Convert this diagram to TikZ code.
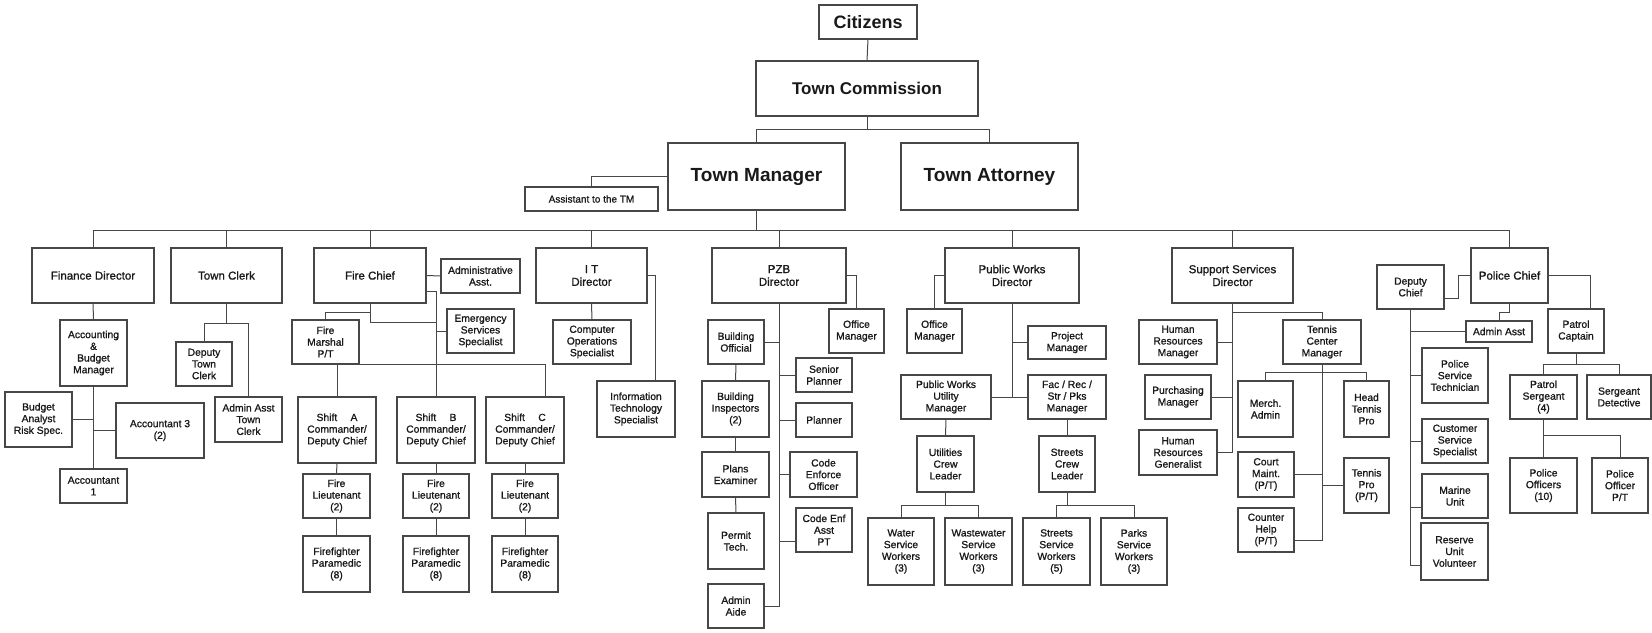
\documentclass[tikz,border=0pt]{standalone}
\usepackage{fontspec}
\setmainfont{Liberation Sans}
\newfontfamily\lab{Liberation Sans}[FakeBold=1.1]
\usetikzlibrary{calc}
\tikzset{
 bx/.style={draw=black!72, line width=1.1pt, inner sep=1pt, outer sep=0pt, align=center, text=black!90},
 sm/.style={bx, font=\lab\fontsize{10.3}{11.7}\selectfont},
 md/.style={bx, font=\lab\fontsize{11.5}{12.8}\selectfont},
 big/.style={bx, font=\bfseries\fontsize{19}{21}\selectfont},
 ln/.style={draw=black!72, line width=1pt}
}
\newcommand\obox[7][sm]{%
  \pgfmathsetmacro\ow{(#5)-(#3)}%
  \pgfmathsetmacro\oh{(#6)-(#4)}%
  \pgfmathsetmacro\ox{((#3)+(#5))/2}%
  \pgfmathsetmacro\oy{((#4)+(#6))/2}%
  \node[#1, minimum width=\ow pt, minimum height=\oh pt] (#2) at (\ox,\oy) {#7};}
\begin{document}
\begin{tikzpicture}[x=1pt,y=-1pt]
\useasboundingbox (0,0) rectangle (1652,632);
% top
\obox[big, font=\bfseries\fontsize{18}{20}\selectfont]{cit}{819}{5}{917}{39}{Citizens}
\obox[big, font=\bfseries\fontsize{17}{19}\selectfont]{com}{756}{61}{978}{116}{Town Commission}
\obox[big]{tm}{668}{143}{845}{210}{Town Manager}
\obox[big]{ta}{901}{143}{1078}{210}{Town Attorney}
\obox[sm, font=\lab\fontsize{10}{11}\selectfont]{asst}{525}{187}{658}{211}{Assistant to the TM}
\coordinate (cj) at (867,129);
\draw[ln] (cit.south) -- (com.north);
\draw[ln] (com.south) -- (cj);
\draw[ln] (tm.north) -- (tm.north |- cj) -- (ta.north |- cj) -- (ta.north);
\draw[ln] (tm.west) -| (asst.north);
\coordinate (busL) at (93,230);
\coordinate (busR) at (1509.5,230);
\draw[ln] (busL) -- (busR);
\draw[ln] (tm.south) -- (tm.south |- busL);
% level 2
\obox[md]{fin}{32}{248}{154}{303}{Finance Director}
\obox[md]{clk}{171}{248}{282}{303}{Town Clerk}
\obox[md]{fire}{314}{248}{426}{303}{Fire Chief}
\obox[md]{itd}{536}{248}{647}{303}{I T\\Director}
\obox[md]{pzb}{712}{248}{846}{303}{PZB\\Director}
\obox[md]{pwd}{945}{248}{1079}{303}{Public Works\\Director}
\obox[md]{ssd}{1172}{248}{1293}{303}{Support Services\\Director}
\obox[md]{pol}{1471}{248}{1548}{303}{Police Chief}
\foreach \n in {fin,clk,fire,itd,pzb,pwd,ssd,pol} {\draw[ln] (\n.north) -- (\n.north |- busL);}
% finance
\obox{acc}{60}{320}{127}{386}{Accounting\\\&\\Budget\\Manager}
\obox{bud}{5}{392}{72}{447}{Budget\\Analyst\\Risk Spec.}
\obox{acthree}{116}{403}{204}{458}{Accountant 3\\(2)}
\obox{acone}{60}{469}{127}{503}{Accountant\\1}
\draw[ln] (fin.south) -- (acc.north);
\draw[ln] (acc.south) -- (acone.north);
\draw[ln] (bud.east) -- (bud.east -| acc.south);
\draw[ln] (acthree.west) -- (acthree.west -| acc.south);
% clerk
\obox{dtc}{176}{342}{232}{386}{Deputy\\Town\\Clerk}
\obox{aac}{215}{397}{282}{442}{Admin Asst\\Town\\Clerk}
\draw[ln] (clk.south) -- (clk.south |- 0,323);
\draw[ln] (dtc.north) |- (aac.north |- 0,323) -- (aac.north);
% fire
\obox{fadm}{441}{259}{520}{293}{Administrative\\Asst.}
\obox{ess}{447}{309}{514}{353}{Emergency\\Services\\Specialist}
\obox{fm}{292}{320}{359}{364}{Fire\\Marshal\\P/T}
\obox{sa}{298}{397}{376}{463}{Shift\hspace{1.3em}A\\Commander/\\Deputy Chief}
\obox{sb}{397}{397}{475}{463}{Shift\hspace{1.3em}B\\Commander/\\Deputy Chief}
\obox{sc}{486}{397}{564}{463}{Shift\hspace{1.3em}C\\Commander/\\Deputy Chief}
\obox{la}{303}{474}{370}{518}{Fire\\Lieutenant\\(2)}
\obox{lb}{403}{474}{469}{518}{Fire\\Lieutenant\\(2)}
\obox{lc}{492}{474}{558}{518}{Fire\\Lieutenant\\(2)}
\obox{fa}{303}{536}{370}{592}{Firefighter\\Paramedic\\(8)}
\obox{fb}{403}{536}{469}{592}{Firefighter\\Paramedic\\(8)}
\obox{fc}{492}{536}{558}{592}{Firefighter\\Paramedic\\(8)}
\draw[ln] (fire.east) -- (fadm.west);
\draw[ln] (fire.east |- 0,291) -| (sb.north);
\draw[ln] (ess.west) -- (ess.west -| sb.north);
\draw[ln] (fire.south) |- (sb.north |- 0,322);
\draw[ln] (fm.north) |- (fire.south |- 0,312);
\draw[ln] (fm.south -| sa.north) -- (sa.north);
\draw[ln] (fm.south east) -| ([xshift=20pt]sc.north);
\foreach \s/\l/\f in {sa/la/fa,sb/lb/fb,sc/lc/fc} {
  \draw[ln] (\s.south) -- (\l.north);
  \draw[ln] (\l.south) -- (\f.north);}
% IT
\obox{cos}{553}{320}{631}{364}{Computer\\Operations\\Specialist}
\obox{its}{597}{381}{675}{437}{Information\\Technology\\Specialist}
\draw[ln] (itd.south) -- (cos.north);
\draw[ln] (itd.east) -| ([xshift=19pt]its.north);
% PZB
\obox{bo}{708}{320}{764}{364}{Building\\Official}
\obox{bi}{702}{381}{769}{437}{Building\\Inspectors\\(2)}
\obox{pe}{702}{452}{769}{497}{Plans\\Examiner}
\obox{pt}{708}{513}{764}{569}{Permit\\Tech.}
\obox{aa}{708}{584}{764}{628}{Admin\\Aide}
\obox{pom}{829}{309}{884}{353}{Office\\Manager}
\obox{sp}{796}{358}{852}{392}{Senior\\Planner}
\obox{pl}{796}{403}{852}{437}{Planner}
\obox{ceo}{790}{452}{857}{497}{Code\\Enforce\\Officer}
\obox{cea}{796}{508}{852}{552}{Code Enf\\Asst\\PT}
\draw[ln] (pzb.east) -| (pom.north);
\draw[ln] (pzb.south) |- (aa.east);
\draw[ln] (bo.east) -- (bo.east -| pzb.south);
\draw[ln] (sp.west) -- (sp.west -| pzb.south);
\draw[ln] (pl.west) -- (pl.west -| pzb.south);
\draw[ln] (ceo.west) -- (ceo.west -| pzb.south);
\draw[ln] (cea.west |- 0,541) -- (pzb.south |- 0,541);
\draw[ln] (bo.south) -- (bi.north);
\draw[ln] (bi.south) -- (pe.north);
\draw[ln] (pe.south) -- (pt.north);
% Public works
\obox{pwo}{907}{309}{962}{353}{Office\\Manager}
\obox{pm}{1028}{326}{1106}{359}{Project\\Manager}
\obox{pwu}{901}{375}{991}{419}{Public Works\\Utility\\Manager}
\obox{frm}{1028}{375}{1106}{419}{Fac / Rec /\\Str / Pks\\Manager}
\obox{ucl}{917}{436}{974}{492}{Utilities\\Crew\\Leader}
\obox{scl}{1039}{436}{1095}{492}{Streets\\Crew\\Leader}
\obox{ww}{868}{518}{934}{585}{Water\\Service\\Workers\\(3)}
\obox{wwa}{945}{518}{1012}{585}{Wastewater\\Service\\Workers\\(3)}
\obox{ssw}{1023}{518}{1090}{585}{Streets\\Service\\Workers\\(5)}
\obox{psw}{1101}{518}{1167}{585}{Parks\\Service\\Workers\\(3)}
\draw[ln] (pwd.west) -| (pwo.north);
\draw[ln] (pwd.south) -- (pwd.south |- pwu.east);
\draw[ln] (pwu.east) -- (frm.west);
\draw[ln] (pm.west) -- (pm.west -| pwd.south);
\draw[ln] (pwu.south) -- (ucl.north);
\draw[ln] (frm.south) -- (scl.north);
\draw[ln] (ucl.south) -- (ucl.south |- 0,505);
\draw[ln] (ww.north) |- (wwa.north |- 0,505) -- (wwa.north);
\draw[ln] (scl.south) -- (scl.south |- 0,505);
\draw[ln] (ssw.north) |- (psw.north |- 0,505) -- (psw.north);
% Support services
\obox{hrm}{1139}{320}{1217}{364}{Human\\Resources\\Manager}
\obox{pur}{1145}{375}{1211}{419}{Purchasing\\Manager}
\obox{hrg}{1139}{430}{1217}{475}{Human\\Resources\\Generalist}
\obox{tcm}{1283}{320}{1361}{364}{Tennis\\Center\\Manager}
\obox{mer}{1238}{381}{1293}{437}{Merch.\\Admin}
\obox{cmt}{1238}{452}{1294}{497}{Court\\Maint.\\(P/T)}
\obox{cth}{1238}{508}{1294}{552}{Counter\\Help\\(P/T)}
\obox{htp}{1344}{381}{1389}{437}{Head\\Tennis\\Pro}
\obox{tpro}{1344}{458}{1389}{513}{Tennis\\Pro\\(P/T)}
\draw[ln] (ssd.south) |- (hrg.east);
\draw[ln] (hrm.east) -- (hrm.east -| ssd.south);
\draw[ln] (pur.east) -- (pur.east -| ssd.south);
\draw[ln] (ssd.south |- 0,312) -| (tcm.north);
\draw[ln] (tcm.south) |- (cth.east |- 0,540);
\draw[ln] (mer.north) |- (htp.north |- 0,372) -- (htp.north);
\draw[ln] (cmt.east) -- (cmt.east -| tcm.south);
\draw[ln] (tpro.west) -- (tpro.west -| tcm.south);
% Police
\obox{dc}{1377}{265}{1444}{309}{Deputy\\Chief}
\obox{paa}{1466}{321}{1532}{342}{Admin Asst}
\obox{pst}{1422}{348}{1488}{403}{Police\\Service\\Technician}
\obox{css}{1422}{419}{1488}{463}{Customer\\Service\\Specialist}
\obox{mu}{1422}{474}{1488}{518}{Marine\\Unit}
\obox{ruv}{1421}{523}{1488}{580}{Reserve\\Unit\\Volunteer}
\obox{pc}{1548}{309}{1604}{353}{Patrol\\Captain}
\obox{ps}{1510}{375}{1577}{419}{Patrol\\Sergeant\\(4)}
\obox{sd}{1587}{375}{1651}{419}{Sergeant\\Detective}
\obox{po}{1510}{458}{1577}{513}{Police\\Officers\\(10)}
\obox{pop}{1592}{458}{1648}{513}{Police\\Officer\\P/T}
\draw[ln] (pol.west) -- ++(-13,0) |- (dc.east |- 0,298);
\draw[ln] (pol.south) |- (paa.north |- 0,312) -- (paa.north);
\draw[ln] (dc.south) |- (ruv.west |- 0,565);
\draw[ln] (paa.west) -- (paa.west -| dc.south);
\draw[ln] (pst.west) -- (pst.west -| dc.south);
\draw[ln] (css.west) -- (css.west -| dc.south);
\draw[ln] (mu.west |- 0,507) -- (dc.south |- 0,507);
\draw[ln] (pol.east) -| ([xshift=14pt]pc.north);
\draw[ln] (pc.south) -- (pc.south |- 0,364);
\draw[ln] (ps.north) |- (sd.north |- 0,364) -- (sd.north);
\draw[ln] (ps.south) -- (po.north);
\draw[ln] (ps.south |- 0,435) -| (pop.north);
\end{tikzpicture}
\end{document}
